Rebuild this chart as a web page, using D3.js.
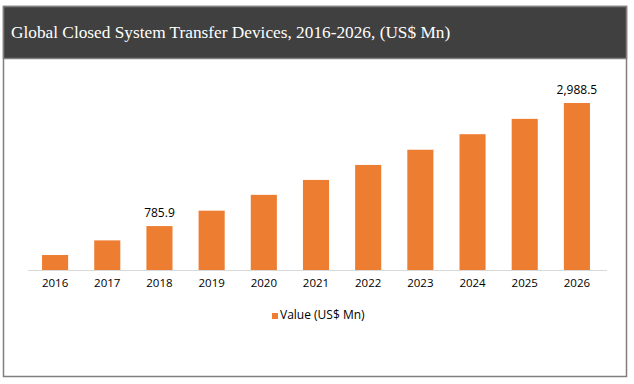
<!DOCTYPE html>
<html>
<head>
<meta charset="utf-8">
<script src="https://cdnjs.cloudflare.com/ajax/libs/d3/7.8.5/d3.min.js"></script>
<style>
  body { margin: 0; background: #fff; }
  svg { display: block; }
</style>
</head>
<body>
<div id="chart"></div>
<script>
// chart values
const years = ['2016', '2017', '2018', '2019', '2020', '2021', '2022', '2023', '2024', '2025', '2026'];
const values = [268, 530, 785.9, 1062, 1345, 1612, 1880, 2152, 2430, 2705, 2988.5];
const labelled = ['2018', '2026'];
const title = 'Global Closed System Transfer Devices, 2016-2026, (US$ Mn)';
const seriesName = 'Value (US$ Mn)';

const width = 634, height = 384;
const orange = '#ED7D31';

const svg = d3.select('#chart').append('svg')
    .attr('width', width)
    .attr('height', height);

// outer frame and title bar
svg.append('rect')
    .attr('x', 3.5).attr('y', 6.5)
    .attr('width', 623).attr('height', 370)
    .attr('fill', '#fff')
    .attr('stroke', '#7f7f7f')
    .attr('stroke-width', 1.5);

svg.append('rect')
    .attr('x', 3.5).attr('y', 6.5)
    .attr('width', 623).attr('height', 52)
    .attr('fill', '#404040')
    .attr('stroke', '#7f7f7f')
    .attr('stroke-width', 1.5);

svg.append('text')
    .attr('x', 11)
    .attr('y', 38)
    .attr('fill', '#fff')
    .attr('font-family', '"Liberation Serif", "Times New Roman", serif')
    .attr('font-size', '17.3px')
    .text(title);

// scales
const x = d3.scaleBand()
    .domain(years)
    .range([29, 603])
    .paddingInner(0.5)
    .paddingOuter(0.25);

const y = d3.scaleLinear()
    .domain([0, d3.max(values)])
    .range([270, 103]);

const data = years.map((yr, i) => ({ year: yr, value: values[i] }));

// baseline
svg.append('line')
    .attr('x1', 28).attr('x2', 607)
    .attr('y1', 270.5).attr('y2', 270.5)
    .attr('stroke', '#d9d9d9')
    .attr('stroke-width', 1);

// bars
svg.selectAll('.bar')
    .data(data)
    .enter()
    .append('rect')
    .attr('class', 'bar')
    .attr('x', d => x(d.year))
    .attr('y', d => y(d.value))
    .attr('width', x.bandwidth())
    .attr('height', d => y(0) - y(d.value))
    .attr('fill', orange);

// x axis labels
const xAxis = svg.append('g')
    .attr('transform', 'translate(0,270)')
    .call(d3.axisBottom(x).tickSize(0).tickPadding(9));
xAxis.select('.domain').remove();
xAxis.selectAll('text')
    .attr('fill', '#000')
    .attr('font-family', '"Open Sans", sans-serif')
    .attr('font-size', '11.5px');

// data labels
const fmt = d3.format(',.1f');
svg.selectAll('.value-label')
    .data(data.filter(d => labelled.includes(d.year)))
    .enter()
    .append('text')
    .attr('class', 'value-label')
    .attr('x', d => x(d.year) + x.bandwidth() / 2)
    .attr('y', d => y(d.value) - 9)
    .attr('text-anchor', 'middle')
    .attr('font-family', '"Open Sans", sans-serif')
    .attr('font-size', '12px')
    .attr('fill', '#000')
    .text(d => fmt(d.value));

// legend
const legend = svg.append('g').attr('transform', 'translate(272,313)');
legend.append('rect')
    .attr('width', 6).attr('height', 6)
    .attr('fill', orange);
legend.append('text')
    .attr('x', 8)
    .attr('y', 6)
    .attr('font-family', '"Open Sans", sans-serif')
    .attr('font-size', '12px')
    .attr('fill', '#000')
    .text(seriesName);
</script>
</body>
</html>
